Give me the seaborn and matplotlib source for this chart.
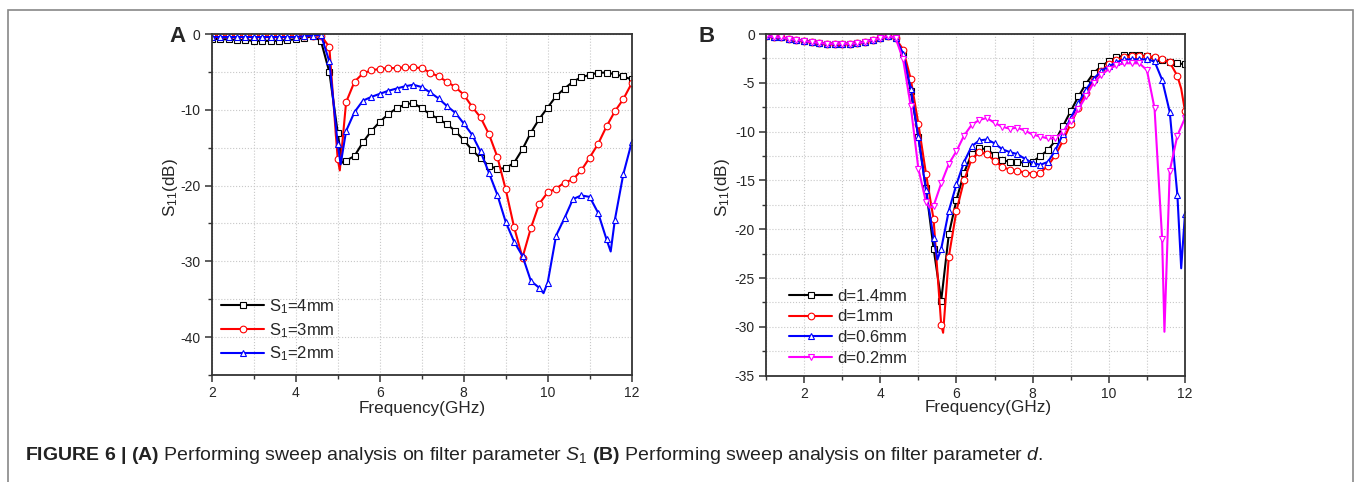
import numpy as np
import matplotlib
matplotlib.use("Agg")
import matplotlib.pyplot as plt
from matplotlib.lines import Line2D
from matplotlib.patches import Rectangle
from matplotlib.ticker import MultipleLocator
import seaborn as sns

# ---------------- panel A: sweep of S1 (sampled every 0.2 GHz) ----------------
freq_a = np.round(np.linspace(2.0, 12.0, 51), 1)

s1_4mm = [-0.6, -0.7, -0.7, -0.8, -0.8, -0.9, -0.9, -0.9, -0.9, -0.8, -0.7, -0.5, -0.3, -0.9, -5.0,
          -13.0, -16.7, -16.1, -14.3, -12.8, -11.6, -10.6, -9.8, -9.3, -9.1,
          -9.8, -10.6, -11.2, -11.9, -12.8, -14.0, -15.3, -16.4, -17.4, -17.8,
          -17.7, -17.0, -15.2, -13.0, -11.2, -9.7, -8.2, -7.2, -6.3, -5.7,
          -5.4, -5.1, -5.1, -5.3, -5.6, -6.0]
s1_3mm = [-0.3, -0.3, -0.3, -0.3, -0.3, -0.3, -0.3, -0.3, -0.3, -0.3, -0.3, -0.2, -0.2, -0.2, -1.7,
          -16.5, -9.0, -6.3, -5.2, -4.8, -4.6, -4.5, -4.5, -4.4, -4.4,
          -4.5, -5.1, -5.6, -6.3, -7.0, -8.0, -9.6, -11.0, -13.2, -16.2,
          -20.5, -25.5, -29.5, -25.6, -22.4, -20.9, -20.4, -19.6, -19.2, -18.0,
          -16.3, -14.5, -12.2, -10.2, -8.6, -6.5]
s1_2mm = [-0.4, -0.4, -0.4, -0.4, -0.4, -0.4, -0.4, -0.4, -0.4, -0.4, -0.4, -0.3, -0.2, -0.1, -3.6,
          -14.5, -12.8, -10.3, -8.8, -8.3, -7.9, -7.5, -7.2, -6.9, -6.7,
          -7.0, -7.7, -8.5, -9.5, -10.4, -11.8, -13.3, -15.5, -18.3, -21.2,
          -24.8, -27.4, -29.3, -32.6, -33.5, -32.8, -26.6, -24.3, -21.8, -21.3,
          -21.5, -23.6, -27.1, -24.5, -18.5, -14.3]
# sharp minima between the marker positions (freq, value)
s1_4mm_dip = ([5.1], [-17.0])
s1_3mm_dip = ([5.05], [-18.0])
s1_2mm_dip = ([5.07, 9.9, 11.5], [-17.2, -34.2, -28.7])

# ---------------- panel B: sweep of d (sampled every 0.2 GHz) ----------------
freq_b = np.round(np.linspace(1.0, 12.0, 56), 1)

flat_b = [-0.2, -0.3, -0.35, -0.5, -0.6, -0.7, -0.85, -0.9, -1.0, -1.0, -1.0, -1.0,
          -0.95, -0.8, -0.6, -0.45, -0.2, -0.4]
d_14 = flat_b + [-2.0, -5.8, -10.5, -15.8, -22.0, -27.3, -20.5, -17.0, -14.2, -12.3,
                 -11.7, -11.8, -12.4, -12.9, -13.1, -13.1, -13.2, -13.1, -12.5, -11.9,
                 -10.9, -9.4, -7.9, -6.4, -5.1, -4.0, -3.3, -2.8, -2.4, -2.2,
                 -2.1, -2.15, -2.3, -2.5, -2.7, -2.9, -3.0, -3.1]
d_10 = flat_b + [-1.6, -4.6, -9.2, -14.3, -19.0, -29.8, -22.8, -18.1, -15.0, -12.8,
                 -12.1, -12.3, -13.0, -13.6, -13.9, -14.0, -14.2, -14.3, -14.2, -13.5,
                 -12.4, -10.9, -9.2, -7.6, -6.0, -4.7, -3.8, -3.1, -2.7, -2.4,
                 -2.3, -2.3, -2.3, -2.4, -2.6, -2.9, -4.3, -7.9]
d_06 = flat_b + [-2.0, -5.6, -10.6, -16.0, -20.9, -22.0, -18.1, -15.4, -13.1, -11.5,
                 -10.9, -10.8, -11.2, -11.8, -12.1, -12.3, -12.8, -13.2, -13.4, -13.1,
                 -11.9, -10.2, -8.6, -7.1, -5.7, -4.6, -3.8, -3.3, -2.9, -2.6,
                 -2.6, -2.6, -2.6, -2.8, -4.7, -8.0, -16.5, -18.4]
d_02 = flat_b + [-2.6, -7.4, -13.8, -17.2, -17.6, -15.3, -13.3, -12.0, -10.4, -9.3,
                 -8.8, -8.6, -9.1, -9.5, -9.7, -9.6, -9.9, -10.3, -10.5, -10.7,
                 -10.7, -10.0, -8.9, -7.7, -6.4, -5.0, -4.2, -3.6, -3.2, -3.0,
                 -3.0, -3.0, -3.7, -7.6, -21.0, -14.0, -10.4, -8.6]
d_14_dip = ([], [])
d_10_dip = ([5.65, 11.9], [-30.6, -5.6])
d_06_dip = ([5.5, 11.9], [-23.1, -24.0])
d_02_dip = ([5.3, 11.46], [-17.8, -30.5])

labels_a = [r"$\mathrm{S}_1$=4mm", r"$\mathrm{S}_1$=3mm", r"$\mathrm{S}_1$=2mm"]
labels_b = ["d=1.4mm", "d=1mm", "d=0.6mm", "d=0.2mm"]
colors = ["black", "#ff0000", "#0000ff", "#ff00ff"]
markers = ["s", "o", "^", "v"]

sns.set_theme(style="ticks")
plt.rcParams["font.family"] = ["Liberation Sans", "DejaVu Sans"]
plt.rcParams["mathtext.fontset"] = "custom"
plt.rcParams["mathtext.rm"] = "Liberation Sans"
plt.rcParams["mathtext.it"] = "Liberation Sans:italic"
plt.rcParams["mathtext.bf"] = "Liberation Sans:bold"
plt.rcParams["axes.unicode_minus"] = False


def draw_curve(ax, freq, vals, dip, color, marker):
    f = np.concatenate([freq, np.array(dip[0], dtype=float)])
    v = np.concatenate([np.array(vals, dtype=float), np.array(dip[1], dtype=float)])
    order = np.argsort(f)
    f, v = f[order], v[order]
    mark = np.isin(f, freq)
    sns.lineplot(x=f, y=v, ax=ax, color=color, lw=1.5, estimator=None, sort=False,
                 marker=marker, markevery=list(mark), ms=4.8, mfc="white",
                 mec=color, mew=0.8)


def style_axes(ax, xlim, ylim, xmajor, ymajor, ymin_step):
    ax.set_xlim(*xlim)
    ax.set_ylim(*ylim)
    ax.xaxis.set_major_locator(MultipleLocator(xmajor))
    ax.xaxis.set_minor_locator(MultipleLocator(1))
    ax.yaxis.set_major_locator(MultipleLocator(ymajor))
    ax.yaxis.set_minor_locator(MultipleLocator(ymin_step))
    ax.grid(which="both", ls=":", color="#c8c8c8", lw=0.8)
    ax.set_axisbelow(True)
    for sp in ax.spines.values():
        sp.set_visible(True)
        sp.set_color("#333333")
        sp.set_linewidth(1.3)
    ax.tick_params(which="major", direction="out", length=5, width=1.1,
                   color="#333333", labelsize=10, pad=3, top=False, right=False)
    ax.tick_params(which="minor", direction="out", length=3, width=1.0,
                   color="#333333", top=False, right=False)
    ax.set_xlabel("Frequency(GHz)", fontsize=12.3, labelpad=0)
    ax.set_ylabel(r"$\mathrm{S}_{11}$(dB)", fontsize=12.3)


fig = plt.figure(figsize=(13.56, 4.82), dpi=100)
ax_a = fig.add_axes([211.7 / 1356, 1 - 375 / 482, 420 / 1356, 341 / 482])
ax_b = fig.add_axes([766 / 1356, 1 - 375.7 / 482, 419 / 1356, 341.7 / 482])

series_a = [(s1_4mm, s1_4mm_dip), (s1_3mm, s1_3mm_dip), (s1_2mm, s1_2mm_dip)]
for i, (vals, dip) in enumerate(series_a):
    draw_curve(ax_a, freq_a, vals, dip, colors[i], markers[i])

series_b = [(d_14, d_14_dip), (d_10, d_10_dip), (d_06, d_06_dip), (d_02, d_02_dip)]
for i, (vals, dip) in enumerate(series_b):
    draw_curve(ax_b, freq_b, vals, dip, colors[i], markers[i])

style_axes(ax_a, (2, 12), (-45, 0), 2, 10, 5)
style_axes(ax_b, (1, 12), (-35, 0), 2, 5, 2.5)
ax_a.yaxis.set_label_coords(-0.076, 0.55)
ax_b.yaxis.set_label_coords(-0.082, 0.55)
ax_a.xaxis.set_label_coords(0.5, -0.077)
ax_b.xaxis.set_label_coords(0.53, -0.071)


def make_handles(n):
    return [Line2D([], [], color=colors[i], lw=1.5, marker=markers[i], ms=4.8,
                   mfc="white", mec=colors[i], mew=0.8) for i in range(n)]


ax_a.legend(make_handles(3), labels_a, loc="upper left", bbox_to_anchor=(0.022, 0.228),
            frameon=False, fontsize=12, handlelength=2.6, handletextpad=0.3,
            labelspacing=0.3, borderpad=0, borderaxespad=0)
ax_b.legend(make_handles(4), labels_b, loc="upper left", bbox_to_anchor=(0.055, 0.255),
            frameon=False, fontsize=12, handlelength=2.6, handletextpad=0.3,
            labelspacing=0.35, borderpad=0, borderaxespad=0)

fig.text(178 / 1356, 1 - 37 / 482, "A", fontsize=16, fontweight="bold", ha="center", va="center")
fig.text(707 / 1356, 1 - 37 / 482, "B", fontsize=16, fontweight="bold", ha="center", va="center")

fig.patches.append(Rectangle((8 / 1356, -0.1), 1345 / 1356, 1.1 - 10 / 482,
                             transform=fig.transFigure, fill=False,
                             edgecolor="#888888", lw=1.2))
caption = (r"$\mathbf{FIGURE\ 6\ |\ (A)}$ Performing sweep analysis on filter parameter "
           r"$S_1$ $\mathbf{(B)}$ Performing sweep analysis on filter parameter $d$.")
fig.text(25 / 1356, 1 - 456 / 482, caption, fontsize=14, ha="left", va="center",
         color="#222222")

fig.savefig("out.png", dpi=100)
